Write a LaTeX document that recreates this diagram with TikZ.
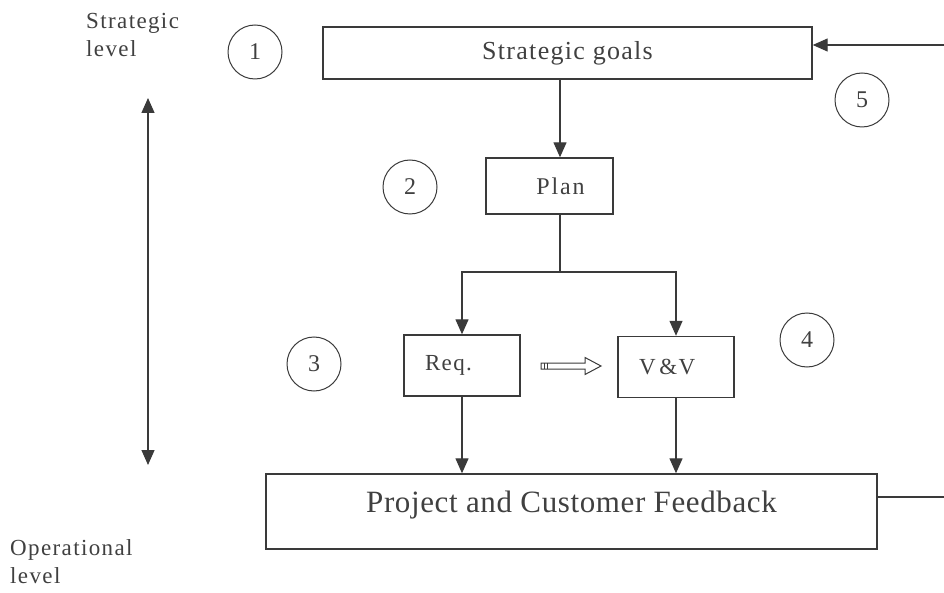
\documentclass[tikz,border=0pt]{standalone}
\usepackage{fontspec}
\setmainfont{Liberation Serif}
\usetikzlibrary{arrows.meta}
\definecolor{ink}{HTML}{3A3A3A}
\definecolor{txt}{HTML}{404040}
\begin{document}
\begin{tikzpicture}[x=1pt,y=-1pt,
  every node/.style={text=txt},
  box/.style={draw=ink,line width=1.4pt,inner sep=0pt},
  num/.style={draw=ink,line width=1pt,circle,minimum size=54pt,inner sep=0pt,font=\fontsize{24}{26}\selectfont},
  conn/.style={draw=ink,line width=1.3pt},
  arr/.style={conn,-{Triangle[length=15pt,width=13pt]}},
  leftbox/.style={box,minimum height=61pt,text width=74pt,inner xsep=21pt,align=left,font=\fontsize{23}{26}\selectfont\addfontfeature{LetterSpace=6}},
  side/.style={anchor=north west,align=left,inner sep=0pt,font=\fontsize{23}{28}\selectfont\addfontfeature{LetterSpace=6}}]
\useasboundingbox (0,0) rectangle (944,593);

\node[box,minimum width=489pt,minimum height=52pt,font=\fontsize{26}{28}\selectfont\addfontfeature{LetterSpace=5}] (sg) at (567.5,53) {Strategic goals};
\node[box,minimum width=127pt,minimum height=56pt,font=\fontsize{24}{28}\selectfont\addfontfeature{LetterSpace=8}] (plan) at (549.5,186) {\hspace*{22pt}Plan};
\node[leftbox] (req) at (462,365.5) {Req.};
\node[leftbox] (vv) at (676,367) {V\,\&V};
\node[box,minimum width=611pt,minimum height=75pt,text depth=20pt,font=\fontsize{31}{34}\selectfont\addfontfeature{LetterSpace=2}] (pcf) at (571.5,511.5) {Project and Customer Feedback};

\node[num] (n1) at (255,52) {1};
\node[num] (n2) at (410,187) {2};
\node[num] (n3) at (314,364) {3};
\node[num] (n4) at (807,340) {4};
\node[num] (n5) at (862,100) {5};

\node[side] (strat) at (86,13) {Strategic\\level};
\node[side] (oper) at (10,539) {Operational\\level};

\coordinate (split) at (560,272);
\coordinate (fbR) at (944,497);
\coordinate (fbT) at (944,45);
\coordinate (lvT) at (148,98);
\coordinate (lvB) at (148,465);
\coordinate (dA) at (541,366);

\draw[arr] (sg.south -| split) -- (plan.north -| split);
\draw[conn] (plan.south -| split) -- (split);
\draw[arr] (split) -| (req.north);
\draw[arr] (split) -| (vv.north);
\draw[arr] (req.south) -- (pcf.north -| req.south);
\draw[arr] (vv.south) -- (pcf.north -| vv.south);
\draw[conn] (pcf.east |- fbR) -- (fbR);
\draw[arr] (fbT) -- (sg.east |- fbT);
\draw[conn,{Triangle[length=15pt,width=13pt]}-{Triangle[length=15pt,width=13pt]}] (lvT) -- (lvB);
% hollow block arrow Req => V&V
\draw[draw=ink,line width=1pt,line join=miter]
  (dA) ++(0,-3) -- ++(44,0) -- ++(0,-5.5) -- ++(16,8.5) -- ++(-16,8.5) -- ++(0,-5.5) -- ++(-44,0) -- cycle;
\draw[draw=ink,line width=0.9pt] ([xshift=3pt,yshift=-3pt]dA) -- ([xshift=3pt,yshift=3pt]dA);
\draw[draw=ink,line width=0.9pt] ([xshift=6pt,yshift=-3pt]dA) -- ([xshift=6pt,yshift=3pt]dA);
\end{tikzpicture}
\end{document}
